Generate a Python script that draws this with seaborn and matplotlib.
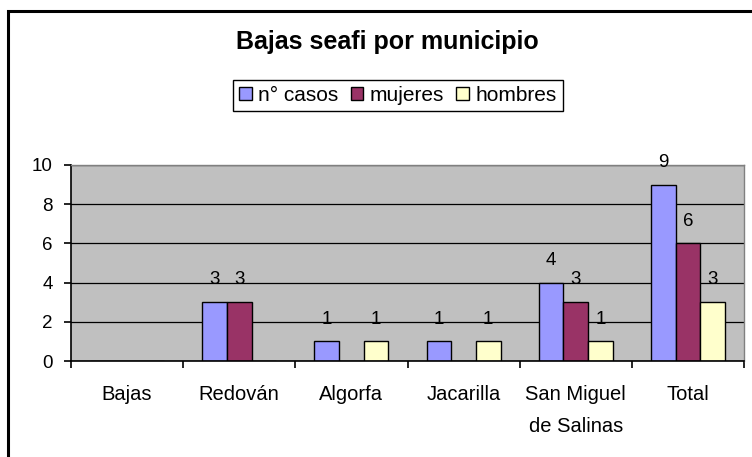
import pandas as pd
import matplotlib.pyplot as plt
import seaborn as sns
from matplotlib.patches import Rectangle
from matplotlib.ticker import FixedLocator

municipios = ['Bajas', 'Redován', 'Algorfa', 'Jacarilla', 'San Miguel\nde Salinas', 'Total']
series = ['n° casos', 'mujeres', 'hombres']
casos = [0, 3, 1, 1, 4, 9]
mujeres = [0, 3, 0, 0, 3, 6]
hombres = [0, 0, 1, 1, 1, 3]
colores = ['#9999FF', '#993366', '#FFFFCC']

data = pd.DataFrame({
    'municipio': municipios * 3,
    'serie': [s for s in series for _ in municipios],
    'valor': casos + mujeres + hombres,
})

plt.rcParams['font.family'] = ['Liberation Sans', 'DejaVu Sans']

fig = plt.figure(figsize=(7.52, 4.57), dpi=100)
ax = fig.add_axes([0.0944, 0.210, 0.895, 0.429])
ax.set_facecolor('#C0C0C0')

sns.barplot(data=data, x='municipio', y='valor', hue='serie', order=municipios,
            hue_order=series, palette=colores, width=0.66, saturation=1,
            edgecolor='black', linewidth=1, ax=ax)

for cont in ax.containers:
    labels = [f'{v:g}' if v > 0 else '' for v in cont.datavalues]
    ax.bar_label(cont, labels=labels, padding=10, fontsize=13.5)

ax.set_ylim(0, 10)
ax.set_yticks(range(0, 11, 2))
ax.set_xlim(-0.5, 5.5)
ax.yaxis.grid(True, color='black', linewidth=0.9)
ax.set_axisbelow(True)
ax.set_xlabel('')
ax.set_ylabel('')

for side in ['top', 'right']:
    ax.spines[side].set_color('#808080')
    ax.spines[side].set_linewidth(1)
for side in ['left', 'bottom']:
    ax.spines[side].set_color('black')
    ax.spines[side].set_linewidth(1.2)

ax.tick_params(axis='y', length=5, width=1.2, pad=8, labelsize=13.5)
ax.tick_params(axis='x', which='major', length=0, pad=17, labelsize=14.5)
ax.xaxis.set_minor_locator(FixedLocator([i - 0.5 for i in range(len(municipios) + 1)]))
ax.tick_params(axis='x', which='minor', length=5, width=1.2)
for t in ax.get_xticklabels():
    t.set_linespacing(1.9)
    t.set_verticalalignment('top')

sns.move_legend(ax, 'upper left', bbox_to_anchor=(0.310, 0.825),
                bbox_transform=fig.transFigure, ncol=3, title=None,
                fontsize=15, frameon=True, fancybox=False, borderaxespad=0,
                handlelength=0.6, handleheight=0.6, handletextpad=0.3,
                columnspacing=0.6, borderpad=0.3)
leg = ax.get_legend()
leg.get_frame().set_edgecolor('black')
leg.get_frame().set_linewidth(1)
leg.get_frame().set_alpha(1)
for h in leg.legend_handles:
    h.set_edgecolor('black')
    h.set_linewidth(1)

fig.text(0.515, 0.908, 'Bajas seafi por municipio', ha='center', va='center',
         fontsize=18, fontweight='bold')

fig.patches.append(Rectangle((8 / 752, -0.05), 1.1, 1 - 11 / 457 + 0.05,
                             transform=fig.transFigure, fill=False,
                             edgecolor='black', linewidth=2.2))

fig.savefig('out.png', dpi=100)
